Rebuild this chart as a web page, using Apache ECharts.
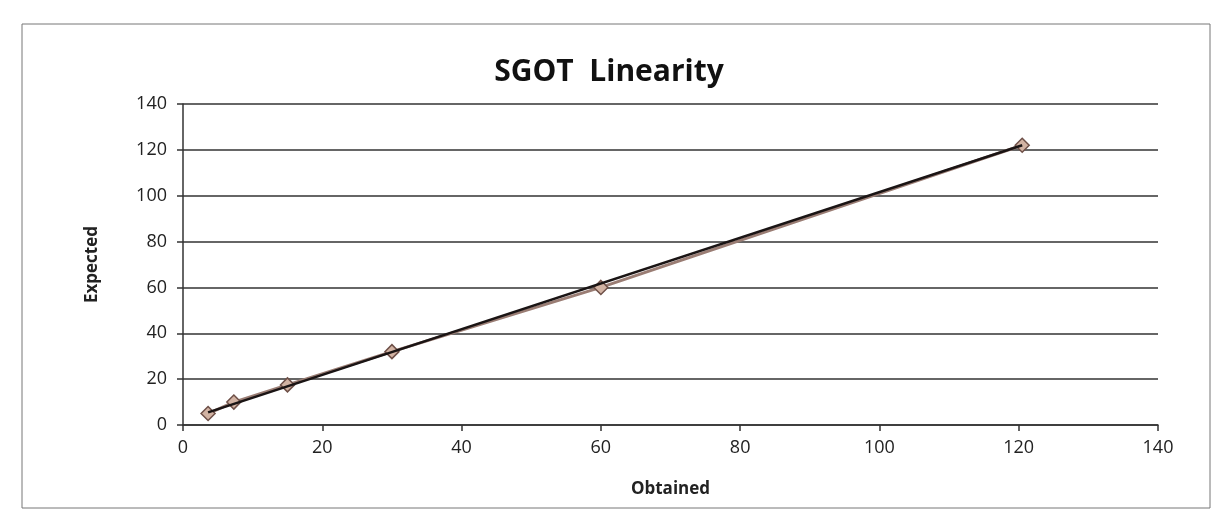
<!DOCTYPE html>
<html>
<head>
<meta charset="utf-8">
<script src="https://cdn.jsdelivr.net/npm/echarts@6/dist/echarts.min.js"></script>
<style>
html,body{margin:0;padding:0;background:#fff;}
#chart{width:1218px;height:526px;}
</style>
</head>
<body>
<div id="chart"></div>
<script>
// Data
var obtained = [3.6, 7.3, 15, 30, 60, 120.5];
var expected = [5, 10, 17.5, 32, 60, 122];
// Linear trendline endpoints
var trendX = [3.6, 120.5];
var trendY = [5.5, 122];
var xTicks = [0, 20, 40, 60, 80, 100, 120, 140];
var yTicks = [0, 20, 40, 60, 80, 100, 120, 140];

var pts = obtained.map(function (x, i) { return [x, expected[i]]; });
var trend = trendX.map(function (x, i) { return [x, trendY[i]]; });

var font = '"Open Sans", "Noto Sans", sans-serif';
var chart = echarts.init(document.getElementById('chart'));
chart.setOption({
  backgroundColor: '#ffffff',
  animation: false,
  title: {
    text: 'SGOT  Linearity',
    left: 'center',
    top: 52,
    textStyle: { fontFamily: font, fontSize: 30, fontWeight: 'bold', color: '#111' }
  },
  grid: { left: 183, right: 60, top: 104, bottom: 101 },
  graphic: [{
    type: 'rect',
    shape: { x: 22, y: 24, width: 1188, height: 484 },
    style: { fill: 'none', stroke: '#777', lineWidth: 1 }
  }],
  xAxis: {
    type: 'value',
    min: 0, max: 140, interval: 20,
    name: 'Obtained',
    nameLocation: 'middle',
    nameGap: 56,
    nameTextStyle: { fontFamily: font, fontSize: 17, fontWeight: 'bold', color: '#222' },
    axisLine: { show: true, lineStyle: { color: '#333', width: 1.5 } },
    axisTick: { show: true, inside: false, length: 6, lineStyle: { color: '#333', width: 1.5 } },
    axisLabel: { fontFamily: font, fontSize: 18, color: '#222', margin: 14 },
    splitLine: { show: false }
  },
  yAxis: {
    type: 'value',
    min: 0, max: 140, interval: 20,
    name: 'Expected',
    nameLocation: 'middle',
    nameGap: 82,
    nameRotate: 90,
    nameTextStyle: { fontFamily: font, fontSize: 17, fontWeight: 'bold', color: '#222' },
    axisLine: { show: true, lineStyle: { color: '#333', width: 1.5 } },
    axisTick: { show: true, length: 6, lineStyle: { color: '#333', width: 1.5 } },
    axisLabel: { fontFamily: font, fontSize: 18, color: '#222', margin: 16 },
    splitLine: { show: true, lineStyle: { color: '#333', width: 1.5 } }
  },
  series: [
    {
      type: 'line',
      data: pts,
      symbol: 'diamond',
      symbolSize: 14,
      lineStyle: { color: '#9a7d74', width: 3 },
      itemStyle: { color: '#d2b3a3', borderColor: '#6e5048', borderWidth: 1.5 },
      z: 2
    },
    {
      type: 'line',
      data: trend,
      symbol: 'none',
      lineStyle: { color: '#1a1414', width: 2.5 },
      z: 3
    }
  ]
});
</script>
</body>
</html>
